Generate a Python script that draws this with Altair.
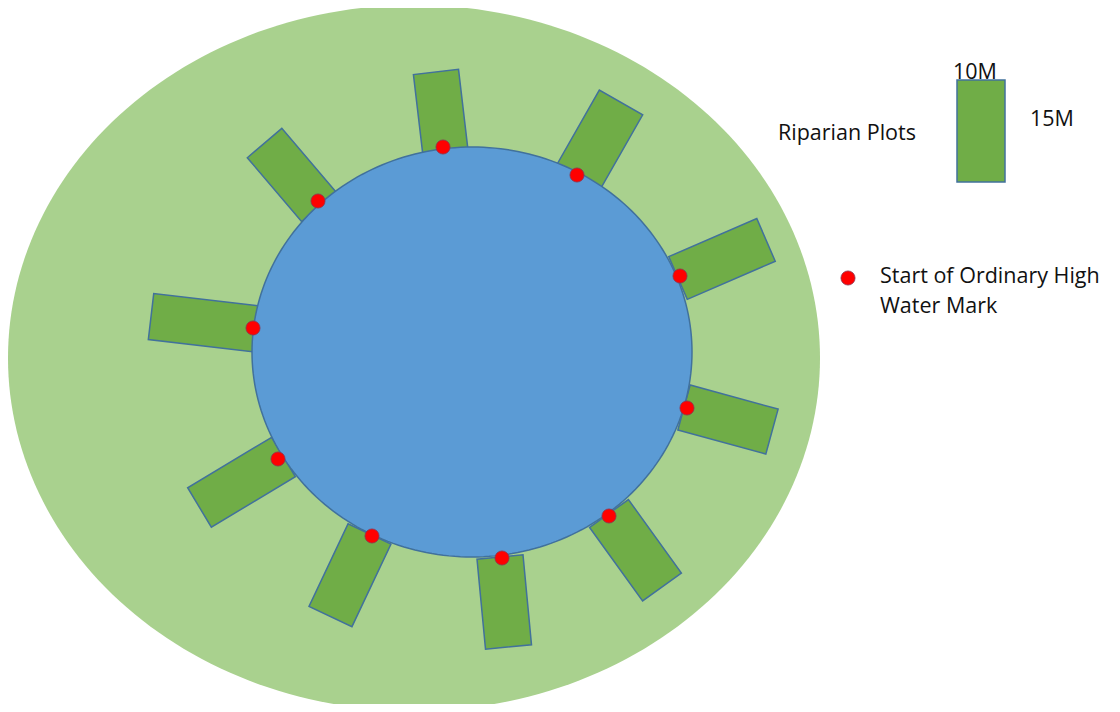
import math
import altair as alt
import pandas as pd

# ---- diagram parameters (page pixel coordinates) ----
# outer riparian zone ellipse: centre x, centre y, radius x, radius y
zone_ellipse = [414, 358, 406, 353]
# lake ellipse
lake_ellipse = [472, 352, 220, 205]

# riparian plots: midpoint of inner edge, outward angle (deg, screen), length, width
plot_mid_x = [445.5, 578.5, 678, 684, 609, 500, 369.5, 283.5, 257, 319]
plot_mid_y = [153, 177, 278, 407.5, 513.5, 557, 534, 457, 329, 207]
plot_angle = [-96.7, -60.3, -23.4, 15.3, 54.2, 84.6, 115.3, 149, 186.7, -130.4]
plot_length = [81.6, 85.8, 95.9, 91.2, 90.6, 90.4, 91.3, 98, 106.7, 84]
plot_width = [45.4, 49.9, 46.5, 46.6, 47.8, 46.2, 47.5, 46, 46.3, 45.3]

# start of ordinary high water mark points
mark_x = [443, 577, 680, 687, 609, 502, 372, 278, 253, 318]
mark_y = [147, 175, 276, 408, 516, 558, 536, 459, 328, 201]

# legend
legend_box = [957, 80, 1005, 182]  # x0, y0, x1, y1
legend_dot = [848, 278]
label_text = ["10M", "15M", "Riparian Plots", "Start of Ordinary High", "Water Mark"]
label_x = [953, 1030, 778, 880, 880]
label_y = [79, 126, 140, 283, 313]

ZONE_FILL = "#A9D18E"
LAKE_FILL = "#5B9BD5"
PLOT_FILL = "#70AD47"
OUTLINE = "#41719C"
DOT = "#FF0000"


def ellipse_feature(p, n=240):
    cx, cy, rx, ry = p
    ring = [[cx + rx * math.cos(2 * math.pi * i / n), cy + ry * math.sin(2 * math.pi * i / n)]
            for i in range(n)]
    ring.append(ring[0])
    return {"type": "Feature", "properties": {}, "geometry": {"type": "Polygon", "coordinates": [ring]}}


def rect_feature(mx, my, ang, length, width):
    a = math.radians(ang)
    ux, uy = math.cos(a), math.sin(a)
    vx, vy = -uy, ux
    h = width / 2
    ring = [
        [mx + vx * h, my + vy * h],
        [mx + ux * length + vx * h, my + uy * length + vy * h],
        [mx + ux * length - vx * h, my + uy * length - vy * h],
        [mx - vx * h, my - vy * h],
    ]
    ring.append(ring[0])
    return {"type": "Feature", "properties": {}, "geometry": {"type": "Polygon", "coordinates": [ring]}}


plots = [rect_feature(*t) for t in zip(plot_mid_x, plot_mid_y, plot_angle, plot_length, plot_width)]
x0, y0, x1, y1 = legend_box
legend_rect = {"type": "Feature", "properties": {}, "geometry": {"type": "Polygon",
               "coordinates": [[[x0, y0], [x1, y0], [x1, y1], [x0, y1], [x0, y0]]]}}

zone = alt.Chart(alt.Data(values=[ellipse_feature(zone_ellipse)])).mark_geoshape(
    fill=ZONE_FILL, stroke=None, strokeWidth=0)

plot_layer = alt.Chart(alt.Data(values=plots + [legend_rect])).mark_geoshape(
    fill=PLOT_FILL, stroke=OUTLINE, strokeWidth=1.5)

lake = alt.Chart(alt.Data(values=[ellipse_feature(lake_ellipse)])).mark_geoshape(
    fill=LAKE_FILL, stroke=OUTLINE, strokeWidth=1.5)

dots_df = pd.DataFrame({"x": mark_x + [legend_dot[0]], "y": mark_y + [legend_dot[1]]})
dots = alt.Chart(dots_df).mark_circle(size=200, color=DOT, opacity=1, stroke="#8a3550",
                                      strokeWidth=0.8).encode(
    longitude="x:Q", latitude="y:Q")

labels_df = pd.DataFrame({"x": label_x, "y": label_y, "t": label_text})
labels = alt.Chart(labels_df).mark_text(align="left", baseline="alphabetic", font="Open Sans",
                                        fontSize=21.5, color="#111111").encode(
    longitude="x:Q", latitude="y:Q", text="t:N")

chart = alt.layer(zone, plot_layer, lake, dots, labels).properties(
    width=1104, height=696,
    autosize=alt.AutoSizeParams(type="none"),
    padding=0,
    projection=alt.Projection(type="identity", scale=1, translate=[-8, -8]),
).configure_view(stroke=None).configure(background="white")

chart.save("out.html", embed_options={"renderer": "svg", "actions": False})
